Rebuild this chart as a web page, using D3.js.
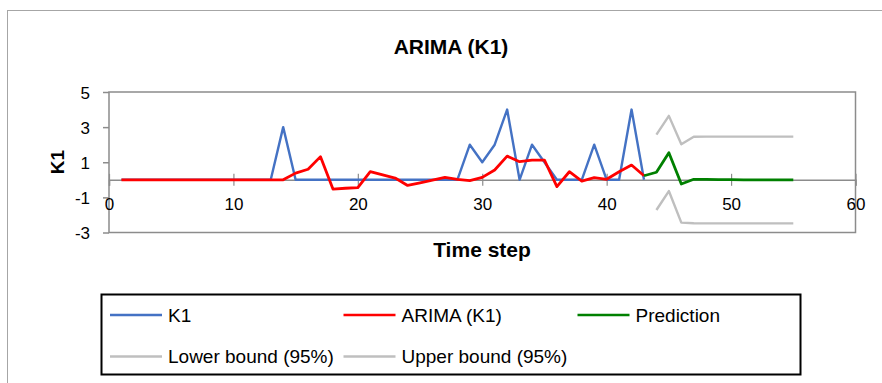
<!DOCTYPE html>
<html><head><meta charset="utf-8">
<script src="https://cdn.jsdelivr.net/npm/d3@7"></script>
<style>html,body{margin:0;padding:0;background:#fff;overflow:hidden}</style>
</head><body>
<svg id="c" width="882" height="383"></svg>
<script>
const chartTitle = "ARIMA (K1)";
const xTitle = "Time step";
const yTitle = "K1";
const xTicks = [0, 10, 20, 30, 40, 50, 60];
const yTicks = [-3, -1, 1, 3, 5];

const k1Start = 1;
const k1Values = [0,0,0,0,0,0,0,0,0,0,0,0,0,3,0,0,0,0,0,0,0,0,0,0,0,0,0,0,2,1,2,4,0,2,1,0,0,0,2,0,0,4,0];

const arimaStart = 1;
const arimaValues = [0,0,0,0,0,0,0,0,0,0,0,0,0,0,0.38,0.6,1.32,-0.53,-0.48,-0.44,0.47,0.28,0.1,-0.32,-0.17,-0.02,0.14,0.03,-0.05,0.14,0.56,1.35,1.03,1.12,1.12,-0.39,0.46,-0.07,0.12,0.03,0.46,0.84,0.23];

const predStart = 43;
const predValues = [0.23,0.43,1.54,-0.24,0.03,0.02,0.01,0.01,0,0,0,0,0];

const boundStart = 44;
const lowerValues = [-1.72,-0.64,-2.44,-2.47,-2.48,-2.48,-2.48,-2.48,-2.48,-2.48,-2.48,-2.48];
const upperValues = [2.57,3.64,2.02,2.45,2.46,2.46,2.46,2.46,2.46,2.46,2.46,2.46];

const legendNames = ["K1", "ARIMA (K1)", "Prediction", "Lower bound (95%)", "Upper bound (95%)"];
const seriesColors = ["#4472C4", "#FF0000", "#008000", "#BFBFBF", "#BFBFBF"];

const FONT = "'Liberation Sans', Arial, sans-serif";
const svg = d3.select("#c").style("font-family", FONT);

// outer chart border
svg.append("rect").attr("x", 7.5).attr("y", 10.5).attr("width", 900).attr("height", 400)
  .attr("fill", "none").attr("stroke", "#a6a6a6").attr("stroke-width", 1);

const x = d3.scaleLinear().domain([0, 60]).range([109, 855.5]);
const y = d3.scaleLinear().domain([-3, 5]).range([232.5, 92]);

// title
svg.append("text").attr("x", 451).attr("y", 54).attr("text-anchor", "middle")
  .attr("font-size", 21).attr("font-weight", "bold").text(chartTitle);

// plot area border
svg.append("rect").attr("x", x(0)).attr("y", y(5)).attr("width", x(60) - x(0)).attr("height", y(-3) - y(5))
  .attr("fill", "none").attr("stroke", "#8c8c8c").attr("stroke-width", 1.5);

// y axis
const yAxis = svg.append("g").attr("transform", `translate(${x(0)},0)`)
  .call(d3.axisLeft(y).tickValues(yTicks).tickFormat(d => String(d)).tickSize(6).tickSizeOuter(0).tickPadding(13));
yAxis.select(".domain").remove();
yAxis.selectAll("line").attr("stroke", "#8c8c8c").attr("stroke-width", 1.5);
yAxis.selectAll("text").attr("font-size", 17).attr("font-family", FONT).attr("fill", "#000").attr("dy", "0.38em");

// x axis at y = 0
const xAxis = svg.append("g").attr("transform", `translate(0,${y(0)})`)
  .call(d3.axisBottom(x).tickValues(xTicks).tickFormat(d => String(d)).tickSizeOuter(0).tickSize(6));
xAxis.select(".domain").attr("stroke", "#8c8c8c").attr("stroke-width", 1.5);
xAxis.selectAll(".tick line").attr("y1", -6).attr("y2", 6).attr("stroke", "#8c8c8c").attr("stroke-width", 1.2);
xAxis.selectAll(".tick text").attr("y", 30.5).attr("dy", 0).attr("font-size", 17)
  .attr("font-family", FONT).attr("fill", "#000");

// axis titles
svg.append("text").attr("x", 482).attr("y", 257).attr("text-anchor", "middle")
  .attr("font-size", 21).attr("font-weight", "bold").text(xTitle);
svg.append("text").attr("transform", `translate(64,162) rotate(-90)`).attr("text-anchor", "middle")
  .attr("font-size", 19).attr("font-weight", "bold").text(yTitle);

// series
function drawSeries(values, start, color, width) {
  const line = d3.line().x((d, i) => x(start + i)).y(d => y(d));
  svg.append("path").datum(values).attr("d", line).attr("fill", "none")
    .attr("stroke", color).attr("stroke-width", width).attr("stroke-linejoin", "round");
}
drawSeries(k1Values, k1Start, seriesColors[0], 2.4);
drawSeries(arimaValues, arimaStart, seriesColors[1], 2.8);
drawSeries(predValues, predStart, seriesColors[2], 2.8);
drawSeries(lowerValues, boundStart, seriesColors[3], 2.4);
drawSeries(upperValues, boundStart, seriesColors[4], 2.4);

// legend
svg.append("rect").attr("x", 101.5).attr("y", 294.5).attr("width", 699).attr("height", 80)
  .attr("fill", "none").attr("stroke", "#000").attr("stroke-width", 2);
const legX = [110, 343.5, 577.5];
const legY = [315, 356.5];
legendNames.forEach((name, i) => {
  const lx = legX[i % 3], ly = legY[Math.floor(i / 3)];
  svg.append("line").attr("x1", lx).attr("x2", lx + 52).attr("y1", ly).attr("y2", ly)
    .attr("stroke", seriesColors[i]).attr("stroke-width", 2.4);
  svg.append("text").attr("x", lx + 58).attr("y", ly).attr("dy", "0.35em")
    .attr("font-size", 19).text(name);
});
</script>
</body></html>
